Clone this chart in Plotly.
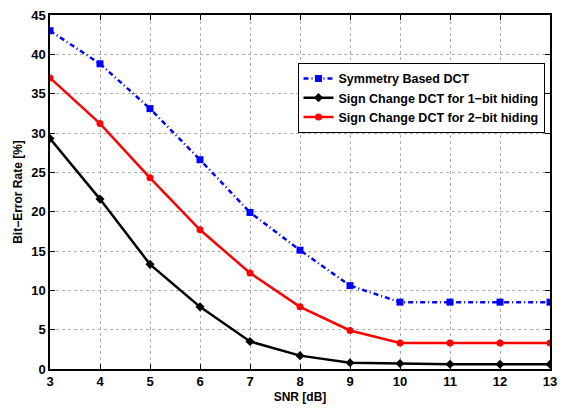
import plotly.graph_objects as go

snr = [3, 4, 5, 6, 7, 8, 9, 10, 11, 12, 13]
symmetry = [43.0, 38.8, 33.1, 26.6, 19.9, 15.1, 10.6, 8.5, 8.5, 8.5, 8.5]
sign1 = [29.3, 21.6, 13.3, 7.9, 3.5, 1.7, 0.8, 0.7, 0.6, 0.6, 0.6]
sign2 = [37.0, 31.2, 24.3, 17.7, 12.2, 7.9, 4.9, 3.3, 3.3, 3.3, 3.3]
names = ["Symmetry Based DCT", "Sign Change DCT for 1\u2212bit hiding", "Sign Change DCT for 2\u2212bit hiding"]

fig = go.Figure()
fig.add_trace(go.Scatter(x=snr, y=symmetry, name=names[0], mode="lines+markers",
                         line=dict(color="#0000ff", width=2.5, dash="5px,3px,1px,3px"),
                         marker=dict(symbol="square", size=7, color="#0000ff")))
fig.add_trace(go.Scatter(x=snr, y=sign1, name=names[1], mode="lines+markers",
                         line=dict(color="#000000", width=2.5),
                         marker=dict(symbol="diamond", size=7, color="#000000")))
fig.add_trace(go.Scatter(x=snr, y=sign2, name=names[2], mode="lines+markers",
                         line=dict(color="#ff0000", width=2.5),
                         marker=dict(symbol="circle", size=7, color="#ff0000")))

font = dict(family="Liberation Sans, Arial, sans-serif", size=12, color="black")
axis_common = dict(showline=True, linecolor="black", linewidth=1.5, mirror="ticks",
                   ticks="inside", ticklen=5, tickcolor="black",
                   showgrid=True, gridcolor="#b0b0b0", griddash="dot", gridwidth=1,
                   zeroline=False, tickfont=dict(family=font["family"], size=13, color="black"))

fig.update_layout(
    width=565, height=410,
    margin=dict(l=50, r=9, t=8, b=39),
    paper_bgcolor="white", plot_bgcolor="white",
    font=font,
    xaxis=dict(range=[3, 13], dtick=1, title=dict(text="<b>SNR [dB]</b>", standoff=4, font=dict(size=12)),
               tickprefix="<b>", ticksuffix="</b>", **axis_common),
    yaxis=dict(range=[0, 45], dtick=5, title=dict(text="<b>Bit\u2212Error Rate [%]</b>", standoff=6, font=dict(size=12)),
               tickprefix="<b>", ticksuffix="</b>", **axis_common),
    legend=dict(x=0.495, y=0.865, xanchor="left", yanchor="top",
                bgcolor="white", bordercolor="black", borderwidth=1,
                font=dict(size=12.5, family=font["family"]), itemwidth=30, tracegroupgap=0),
)
fig.for_each_trace(lambda t: t.update(name="<b>" + t.name + "</b>"))

fig.write_html("out.html")
